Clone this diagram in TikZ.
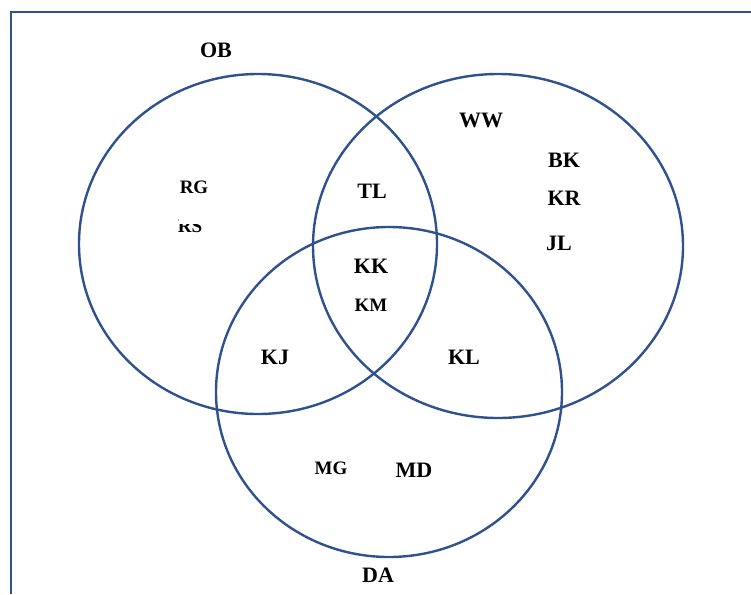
\documentclass[tikz,border=0pt]{standalone}
\usepackage{fontspec}
\setmainfont{Liberation Serif}
\usetikzlibrary{positioning}
\definecolor{vennblue}{RGB}{47,82,143}

\begin{document}
\begin{tikzpicture}[x=1pt, y=-1pt, thick,
	every node/.style={font=\bfseries\fontsize{22}{26}\selectfont, inner sep=1pt},
	small/.style={font=\bfseries\fontsize{19}{22}\selectfont},
	ring/.style={draw=vennblue, line width=2.4pt}]
				\useasboundingbox (0,0) rectangle (751,594);

				\draw[vennblue, line width=2.8pt] (11,594) -- (11,12) -- (751,12);

				\draw[ring] (258,244) ellipse (179pt and 170pt);
				\draw[ring] (498,246) ellipse (185pt and 172pt);
				\draw[ring] (389,392) ellipse (173pt and 165pt);

				\node (ob) at (216,50) {OB};
				\node (ww) at (481,120) {WW};
				\node (da) at (378,575) {DA};

				\node (bk) at (564,160) {BK};
				\node (kr) at (564,198) {KR};
				\node (jl) at (559,243) {JL};

				\node[small, anchor=base] (rs) at (190,232) {RS};
				\node[small, anchor=base, fill=white, text depth=30pt] (rg) at (194,193) {RG};

				\node (tl) at (372,191) {TL};
				\node (kk) at (371,266) {KK};
				\node[small] (km) at (371,305) {KM};

				\node (kj) at (275,357) {KJ};
				\node (kl) at (464,357) {KL};

				\node[small] (mg) at (331,468) {MG};
				\node (md) at (414,470) {MD};
			\end{tikzpicture}
\end{document}
